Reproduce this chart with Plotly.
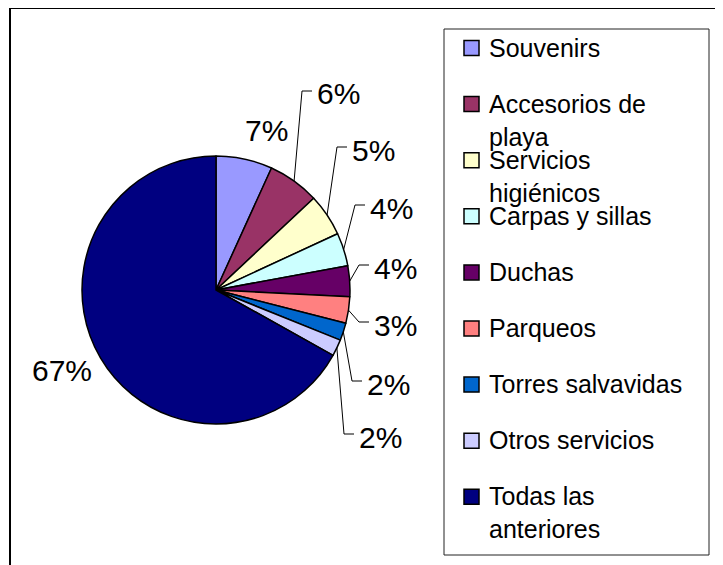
import math
import plotly.graph_objects as go

# ---- data ----
categories = ["Souvenirs", "Accesorios de playa", "Servicios higiénicos",
              "Carpas y sillas", "Duchas", "Parqueos", "Torres salvavidas",
              "Otros servicios", "Todas las anteriores"]
legend_labels = ["Souvenirs", "Accesorios de<br>playa", "Servicios<br>higiénicos",
                 "Carpas y sillas", "Duchas", "Parqueos", "Torres salvavidas",
                 "Otros servicios", "Todas las<br>anteriores"]
values = [6.8, 6.2, 5.1, 4.0, 3.7, 3.2, 2.1, 2.0, 66.9]
colors = ["#9999FF", "#993366", "#FFFFCC", "#CCFFFF", "#660066",
          "#FF8080", "#0066CC", "#CCCCFF", "#000080"]

# ---- layout constants (pixels, as seen on the page) ----
W, H = 723, 565
OFF = 8  # page body margin
CX, CY, R = 216, 290, 134
# label anchor (left x, center y)
LABEL_POS = [(243, 130), (315, 94), (350, 150), (368, 208), (372, 268),
             (372, 325), (365, 384), (357, 437), (30, 370)]
LEADER = [False, True, True, True, True, True, True, True, False]
LBL_FS = 30
LEG_FS = 25
LEG_X0, LEG_Y0, LEG_X1, LEG_Y1 = 444, 29, 709, 555
LEG_ROW0, LEG_STEP = 48, 56.1


def px(x):
    return (x - OFF) / W


def py(y):
    return 1 - (y - OFF) / H


fig = go.Figure()
fig.add_trace(go.Pie(
    labels=categories, values=values, sort=False, direction="clockwise",
    rotation=0, marker=dict(colors=colors, line=dict(color="black", width=1.5)),
    textinfo="none", showlegend=False, hoverinfo="label+percent",
    domain=dict(x=[px(CX - R), px(CX + R)], y=[py(CY + R), py(CY - R)]),
))

total = sum(values)
shapes = []
annotations = []

# outer frame
shapes.append(dict(type="rect", xref="paper", yref="paper",
                   x0=px(10), x1=px(W + 20), y0=py(H + 20), y1=py(8),
                   line=dict(color="black", width=2), fillcolor="rgba(0,0,0,0)"))

cum = 0.0
for i, v in enumerate(values):
    frac = v / total
    mid = (cum + frac / 2) * 2 * math.pi
    cum += frac
    lx, ly = LABEL_POS[i]
    annotations.append(dict(
        x=px(lx), y=py(ly), xref="paper", yref="paper", xanchor="left",
        yanchor="middle", showarrow=False, text=f"{round(frac * 100)}%",
        font=dict(family="Liberation Sans, Arial", size=LBL_FS, color="black")))
    if LEADER[i]:
        sx = CX + R * math.sin(mid)
        sy = CY - R * math.cos(mid)
        ex, ey = lx - 13, ly - 3
        fx = lx - 3
        path = (f"M {px(sx)} {py(sy)} L {px(ex)} {py(ey)} L {px(fx)} {py(ey)}")
        shapes.append(dict(type="path", xref="paper", yref="paper", path=path,
                           line=dict(color="black", width=1)))

# legend box
shapes.append(dict(type="rect", xref="paper", yref="paper",
                   x0=px(LEG_X0), x1=px(LEG_X1), y0=py(LEG_Y1), y1=py(LEG_Y0),
                   line=dict(color="#222222", width=1), fillcolor="white"))
for i, lab in enumerate(legend_labels):
    rc = LEG_ROW0 + LEG_STEP * i
    shapes.append(dict(type="rect", xref="paper", yref="paper",
                       x0=px(464), x1=px(479), y0=py(rc + 7.5), y1=py(rc - 7.5),
                       line=dict(color="black", width=1.5), fillcolor=colors[i]))
    annotations.append(dict(
        x=px(487), y=py(rc - 0.66 * LEG_FS), xref="paper", yref="paper",
        xanchor="left", yanchor="top", align="left", showarrow=False, text=lab,
        font=dict(family="Liberation Sans, Arial", size=LEG_FS, color="black")))

fig.update_layout(
    width=W, height=H, margin=dict(l=0, r=0, t=0, b=0),
    paper_bgcolor="white", plot_bgcolor="white",
    shapes=shapes, annotations=annotations,
)
fig.write_html("out.html")
